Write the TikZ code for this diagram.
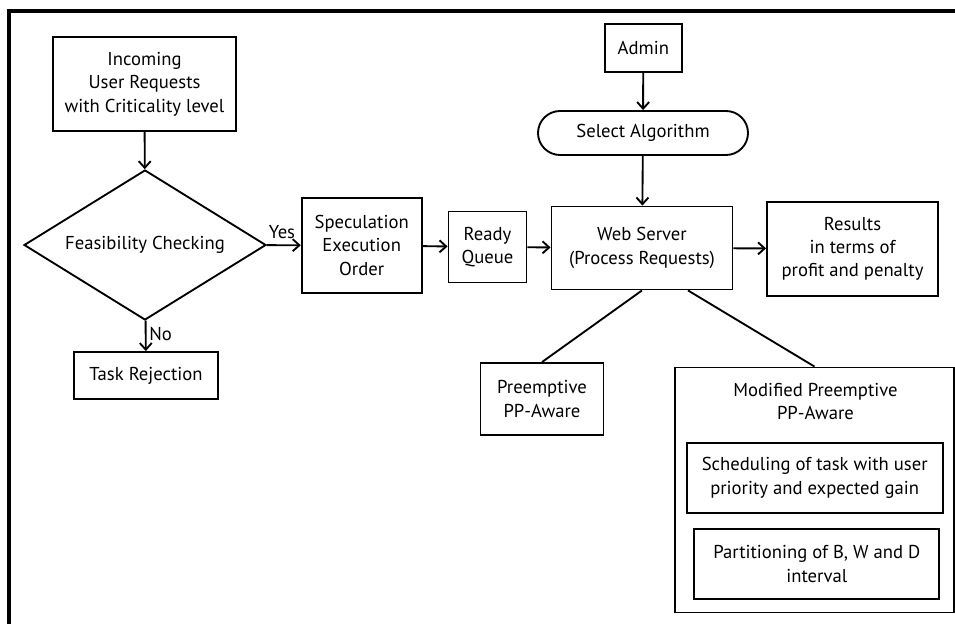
\documentclass[tikz,border=0pt]{standalone}
\usepackage{fontspec}
\setmainfont{PT Sans}
\usetikzlibrary{arrows.meta, shapes.geometric}

\begin{document}
\begin{tikzpicture}[x=0.75pt, y=-0.75pt,
    font=\fontsize{14}{17.5}\selectfont,
    box/.style={draw, line width=1.4pt, align=center, inner sep=2pt},
    flow/.style={-{Straight Barb[length=5pt,width=9pt]}, line width=1.4pt},
    link/.style={line width=1.4pt}]
        \useasboundingbox (0,0) rectangle (955,624);
        \draw[line width=2.4pt] (955,11) -- (9,11) -- (9,624);

        % left part
        \node[box, minimum width=137pt, minimum height=70.5pt] (incoming) at (144.5,84) {Incoming\\User Requests\\with Criticality level};
        \node[box, diamond, aspect=1.61, inner sep=0pt, minimum width=181.5pt, minimum height=112.5pt] (check) at (145,245) {Feasibility Checking};
        \node[box, minimum width=108pt, minimum height=35.25pt] (reject) at (146,375.5) {Task Rejection};
        \node[box, minimum width=90pt, minimum height=71.25pt] (spec) at (361.7,245.3) {Speculation\\Execution\\Order};
        \node[box, minimum width=58.5pt, minimum height=53.25pt] (ready) at (487.5,247) {Ready\\Queue};

        % server part
        \node[box, minimum width=57.75pt, minimum height=36pt] (admin) at (643.3,48.3) {Admin};
        \node[box, rounded corners=16.5pt, minimum width=157.5pt, minimum height=33pt] (algo) at (643,133) {Select Algorithm};
        \node[box, minimum width=135.75pt, minimum height=62.25pt] (server) at (642,248) {Web Server\\(Process Requests)};
        \node[box, minimum width=128.25pt, minimum height=70.5pt] (results) at (852.5,248.7) {Results\\in terms of\\profit and penalty};
        \node[box, minimum width=92.25pt, minimum height=54pt] (pre) at (542,399) {Preemptive\\PP-Aware};
        \node[box, minimum width=209.25pt, minimum height=183.75pt] (mod) at (814.5,490) {};
        \node[align=center] (modtitle) at (815.5,401.5) {Modified Preemptive\\PP-Aware};
        \node[box, minimum width=192pt, minimum height=52.5pt] (sched) at (814.7,477.7) {Scheduling of task with user\\priority and expected gain};
        \node[box, minimum width=183.75pt, minimum height=52.5pt] (part) at (816.8,564) {Partitioning of B, W and D\\interval};

        \draw[flow] (incoming) -- (check);
        \draw[flow] (check) -- node[above, pos=0.45, inner sep=4pt] {Yes} (spec);
        \draw[flow] (check) -- node[right, pos=0.45, inner sep=2pt] {No} (reject);
        \draw[flow] (spec) -- (ready);
        \draw[flow] (ready) -- (server);
        \draw[flow] (admin) -- (algo);
        \draw[flow] (algo) -- (server);
        \draw[flow] (server) -- (results);
        \draw[link] (server.south) -- (pre.north);
        \draw[link] ([xshift=34.5pt]server.south) -- (mod.north);
\end{tikzpicture}
\end{document}
